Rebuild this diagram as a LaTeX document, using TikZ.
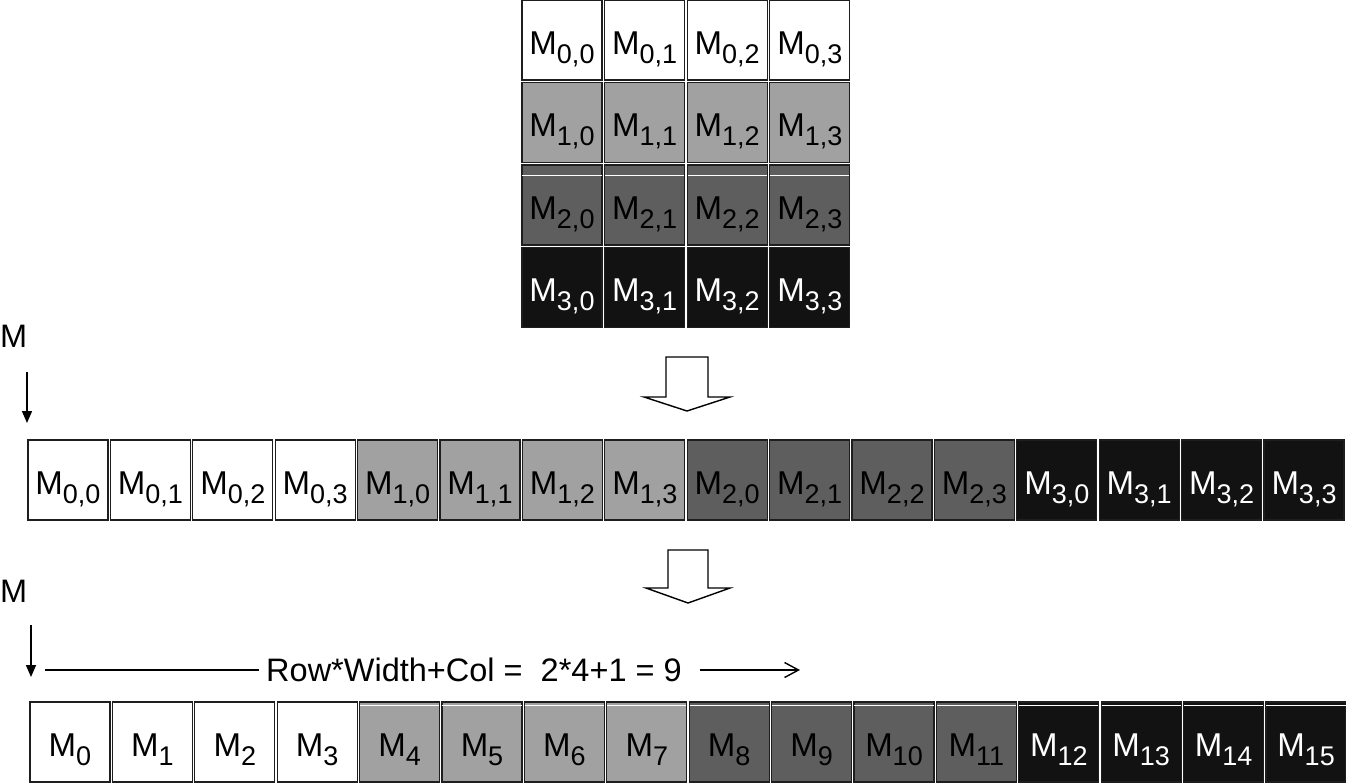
\documentclass[tikz,border=0pt]{standalone}
\usepackage{fontspec}
\setmainfont{Liberation Sans}
\usetikzlibrary{arrows.meta,positioning}

\definecolor{lightcell}{HTML}{A1A1A1}
\definecolor{darkcell}{HTML}{5E5E5E}
\definecolor{blackcell}{HTML}{121212}
\definecolor{edgegray}{HTML}{1E1E1E}
\newcommand{\Msub}[1]{M\raisebox{-9pt}{\fontsize{27}{27}\selectfont #1}}

\begin{document}
\begin{tikzpicture}[
  x=1pt, y=-1pt,
  cell/.style={draw=edgegray, line width=1.3pt, minimum width=80pt,
  minimum height=80pt, inner sep=0pt, text height=28pt, text depth=0pt,
  font=\fontsize{33}{38}\selectfont},
  seamline/.style={white, line width=1.2pt},
  lbl/.style={inner sep=0pt, font=\fontsize{32.5}{38}\selectfont},
  pointer/.style={-{Triangle[length=12pt, width=10pt]}, line width=1.4pt},
  thinline/.style={line width=1.4pt},
  thinarrow/.style={-{Straight Barb[length=14pt, width=15pt]}, line width=1.4pt},
  bigarrow/.style={draw, fill=white, line width=1.4pt}
]
  \useasboundingbox (0,0) rectangle (1346,782);

  % 4x4 matrix
  \foreach \r/\bg/\fg in {0/white/black, 1/lightcell/black, 2/darkcell/black, 3/blackcell/white}
    \foreach \c in {0,...,3}
      \node[cell, fill=\bg, text=\fg] (t\r\c) at (562+82.6*\c, 40+82.5*\r) {\Msub{\r,\c}};
  \foreach \c in {0,...,3}
    \draw[seamline] ([xshift=1pt, yshift=-11pt]t2\c.north west) -- ([xshift=-1pt, yshift=-11pt]t2\c.north east);

  \coordinate (flat1) at (687,357);
  \draw[bigarrow] (flat1) ++(-21,0) -- ++(42,0) -- ++(0,40) -- ++(22,0) -- ++(-43,14) -- ++(-43,-14) -- ++(22,0) -- cycle;

  % row-major with 2D index
  \node[lbl, anchor=west] (mlab1) at (0,336) {M};
  \coordinate (ptr1start) at (27,372);
  \coordinate (ptr1end) at (27,423);
  \draw[pointer] (ptr1start) -- (ptr1end);

  \foreach \r/\bg/\fg in {0/white/black, 1/lightcell/black, 2/darkcell/black, 3/blackcell/white}
    \foreach \c in {0,...,3} {
      \pgfmathtruncatemacro{\i}{4*\r+\c}
      \node[cell, fill=\bg, text=\fg] (m\i) at (68+82.4*\i, 480) {\Msub{\r,\c}};
    }

  \coordinate (flat2) at (688,550);
  \draw[bigarrow] (flat2) ++(-20,0) -- ++(40,0) -- ++(0,38) -- ++(22,0) -- ++(-42,15) -- ++(-42,-15) -- ++(22,0) -- cycle;

  % row-major with 1D index
  \node[lbl, anchor=west] (mlab2) at (0,591) {M};
  \coordinate (ptr2start) at (31,625);
  \coordinate (ptr2end) at (31,677);
  \draw[pointer] (ptr2start) -- (ptr2end);

  \node[lbl] (rowcol) at (474,670) {Row*Width+Col =\ \ 2*4+1 = 9};
  \coordinate (rowstart) at (45,670);
  \coordinate (rowend) at (800,670);
  \draw[thinline] (rowstart) -- ([xshift=-7pt]rowcol.west);
  \draw[thinarrow] ([xshift=18pt]rowcol.east) -- (rowend);

  \foreach \r/\bg/\fg in {0/white/black, 1/lightcell/black, 2/darkcell/black, 3/blackcell/white}
    \foreach \c in {0,...,3} {
      \pgfmathtruncatemacro{\i}{4*\r+\c}
      \node[cell, fill=\bg, text=\fg] (b\i) at (70+82.4*\i, 742) {\Msub{\i}};
    }
  \foreach \i in {4,...,15}
    \draw[seamline] ([xshift=1pt, yshift=-4pt]b\i.north west) -- ([xshift=-1pt, yshift=-4pt]b\i.north east);
\end{tikzpicture}
\end{document}
